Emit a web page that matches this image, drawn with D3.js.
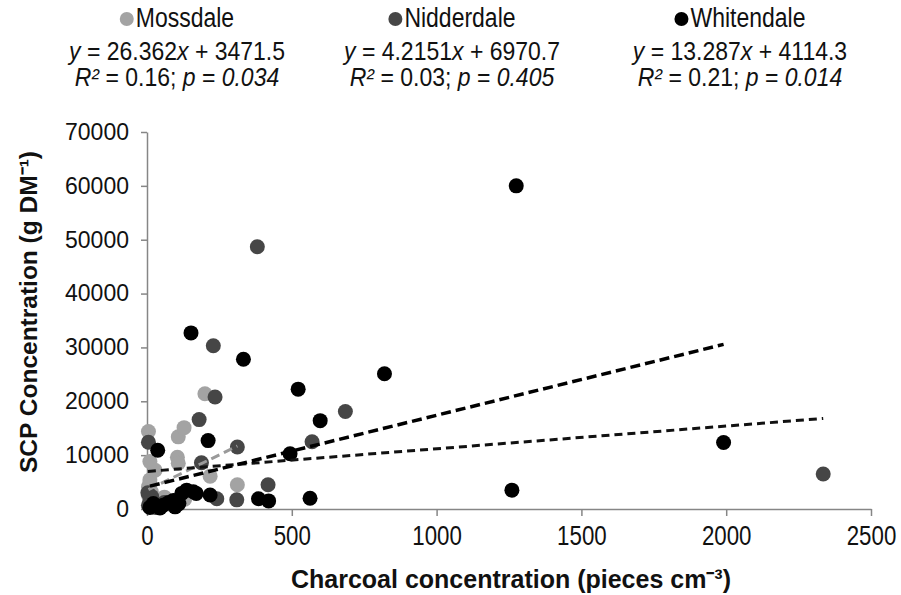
<!DOCTYPE html>
<html>
<head>
<meta charset="utf-8">
<script src="https://cdn.jsdelivr.net/npm/d3@7"></script>
<style>
  body { margin: 0; background: #fff; }
  text { font-family: "Liberation Sans", Arial, sans-serif; }
</style>
</head>
<body>
<div id="chart"></div>
<script>
var width = 901;
var height = 595;

var sites = ['Mossdale', 'Nidderdale', 'Whitendale'];

var mossdaleX = [5, 10, 28, 10, 5, 105, 108, 128, 108, 200, 218, 312, 10, 5, 20, 60, 40, 80, 130, 15];
var mossdaleY = [14400, 8800, 7200, 5400, 4100, 9600, 13400, 15100, 8500, 21400, 6100, 4500, 4800, 2500, 1500, 2200, 400, 900, 1800, 3200];

var nidderdaleX = [381, 229, 235, 180, 685, 570, 312, 5, 188, 418, 241, 310, 2335, 16, 5, 10, 30, 60, 3, 20];
var nidderdaleY = [48700, 30300, 20800, 16600, 18100, 12500, 11500, 12400, 8600, 4500, 1900, 1700, 6500, 2300, 700, 1500, 300, 1200, 3000, 500];

var whitendaleX = [37, 211, 152, 333, 522, 598, 494, 820, 1275, 1260, 1991, 563, 385, 420, 218, 22, 56, 91, 120, 137, 160, 97, 170, 10, 75, 110, 45];
var whitendaleY = [10900, 12700, 32700, 27800, 22250, 16400, 10250, 25100, 60000, 3500, 12350, 2000, 1900, 1500, 2600, 1000, 700, 1600, 2900, 3500, 3200, 400, 2900, 300, 1200, 1000, 200];

var slopes = ['26.362', '4.2151', '13.287'];
var intercepts = ['3471.5', '6970.7', '4114.3'];
var rSquared = ['0.16', '0.03', '0.21'];
var pValues = ['0.034', '0.405', '0.014'];

var xTicks = [0, 500, 1000, 1500, 2000, 2500];
var yTicks = [0, 10000, 20000, 30000, 40000, 50000, 60000, 70000];

var siteColors = ['#a3a3a3', '#464646', '#000000'];
var lineColors = ['#9a9a9a', '#111111', '#000000'];
var headerCenters = [177, 452, 740];

var plot = { left: 147, right: 871, top: 132, bottom: 509 };

var svg = d3.select('#chart')
  .append('svg')
    .attr('width', width)
    .attr('height', height);

var x = d3.scaleLinear().domain([0, 2500]).range([plot.left, plot.right]);
var y = d3.scaleLinear().domain([0, 70000]).range([plot.bottom, plot.top]);

var series = [
  { name: sites[0], xs: mossdaleX, ys: mossdaleY },
  { name: sites[1], xs: nidderdaleX, ys: nidderdaleY },
  { name: sites[2], xs: whitendaleX, ys: whitendaleY }
];

// axes
var yAxis = svg.append('g')
  .attr('transform', 'translate(' + plot.left + ',0)')
  .call(d3.axisLeft(y).tickValues(yTicks).tickFormat(d3.format('d'))
    .tickSize(6).tickSizeOuter(0).tickPadding(12));

var xAxis = svg.append('g')
  .attr('transform', 'translate(0,' + plot.bottom + ')')
  .call(d3.axisBottom(x).tickValues(xTicks).tickFormat(d3.format('d'))
    .tickSize(7).tickSizeOuter(0).tickPadding(8));

[xAxis, yAxis].forEach(function (ax) {
  ax.select('.domain').attr('stroke', '#868686').attr('stroke-width', 1.5);
  ax.selectAll('.tick line').attr('stroke', '#868686').attr('stroke-width', 1.5);
  ax.selectAll('text')
    .attr('fill', '#111')
    .style('font-size', '23px')
    .style('font-family', '"Liberation Sans", Arial, sans-serif');
});

xAxis.selectAll('.tick text')
  .attr('dy', '0.71em')
  .attr('transform', 'scale(0.97,1.22)')
  .attr('y', 13);

// points
series.forEach(function (s, i) {
  svg.append('g')
    .selectAll('circle')
    .data(s.xs.map(function (v, j) { return { x: v, y: s.ys[j] }; }))
    .enter()
    .append('circle')
      .attr('cx', function (d) { return x(d.x); })
      .attr('cy', function (d) { return y(d.y); })
      .attr('r', 7.5)
      .attr('fill', siteColors[i]);
});

// trendlines, drawn over the markers
var dashes = ['9,5', '8,5', '10,5'];
var widths = [3, 3, 3.5];

series.forEach(function (s, i) {
  var m = +slopes[i];
  var b = +intercepts[i];
  var ext = d3.extent(s.xs);
  svg.append('line')
    .attr('x1', x(ext[0]))
    .attr('y1', y(m * ext[0] + b))
    .attr('x2', x(ext[1]))
    .attr('y2', y(m * ext[1] + b))
    .attr('stroke', lineColors[i])
    .attr('stroke-width', widths[i])
    .attr('stroke-dasharray', dashes[i]);
});

// header: legend entries and regression stats
series.forEach(function (s, i) {
  var cx = headerCenters[i];

  var leg = svg.append('g');
  var label = leg.append('text')
    .attr('x', 0)
    .attr('y', 0)
    .style('font-size', '25px')
    .attr('fill', '#111')
    .text(s.name);
  var w = label.node().getComputedTextLength() * 0.92 + 16;
  leg.append('circle')
    .attr('cx', 0)
    .attr('cy', -8)
    .attr('r', 7)
    .attr('fill', siteColors[i])
    .attr('transform', 'translate(' + (cx - w / 2 + 7) + ',27)');
  label.attr('transform', 'translate(' + (cx - w / 2 + 16) + ',27) scale(0.92,1.08)');

  var eq = svg.append('text')
    .attr('text-anchor', 'middle')
    .attr('transform', 'translate(' + cx + ',60) scale(1,1.15)')
    .style('font-size', '23px')
    .attr('fill', '#111');
  eq.append('tspan').style('font-style', 'italic').text('y');
  eq.append('tspan').text(' = ' + slopes[i]);
  eq.append('tspan').style('font-style', 'italic').text('x');
  eq.append('tspan').text(' + ' + intercepts[i]);

  var st = svg.append('text')
    .attr('text-anchor', 'middle')
    .attr('transform', 'translate(' + cx + ',86) scale(1,1.15)')
    .style('font-size', '23px')
    .attr('fill', '#111');
  st.append('tspan').style('font-style', 'italic').text('R²');
  st.append('tspan').text(' = ' + rSquared[i] + '; ');
  st.append('tspan').style('font-style', 'italic').text('p');
  st.append('tspan').text(' = ');
  st.append('tspan').style('font-style', 'italic').text(pValues[i]);
});

// axis titles
svg.append('text')
  .attr('text-anchor', 'middle')
  .attr('transform', 'translate(' + ((plot.left + plot.right) / 2 + 2) + ',588)')
  .style('font-size', '25px')
  .style('font-weight', 'bold')
  .attr('fill', '#111')
  .text('Charcoal concentration (pieces cm⁻³)');

svg.append('text')
  .attr('text-anchor', 'middle')
  .attr('transform', 'translate(37,312) rotate(-90)')
  .style('font-size', '24.5px')
  .style('font-weight', 'bold')
  .attr('fill', '#111')
  .text('SCP Concentration (g DM⁻¹)');
</script>
</body>
</html>
